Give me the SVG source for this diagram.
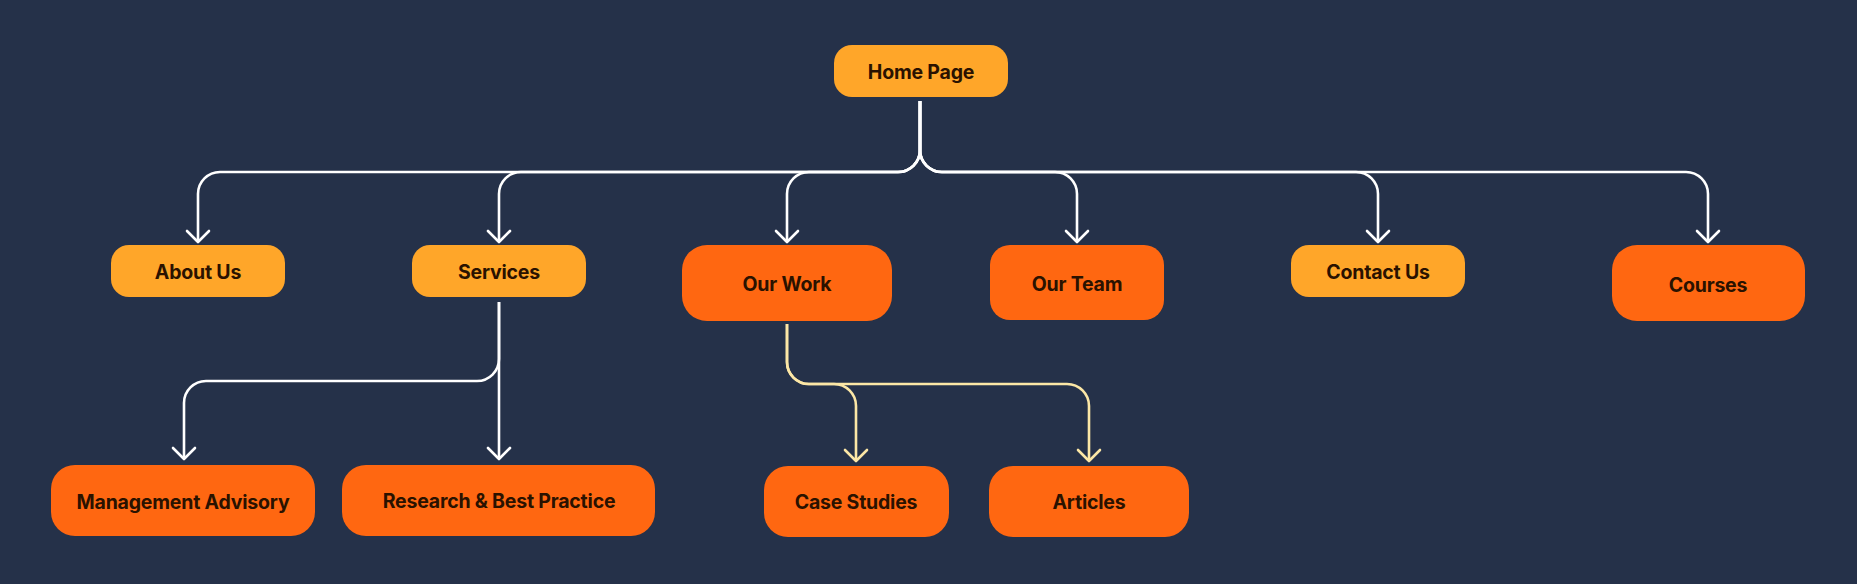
<svg xmlns="http://www.w3.org/2000/svg" width="1857" height="584" viewBox="0 0 1857 584">
<style>
.bg{fill:#253149}
.lt{fill:#FFA629}
.dk{fill:#FF6711}
.lbl{font-family:Inter,"Liberation Sans",sans-serif;font-weight:700;font-size:19.5px;fill:#2A1200;text-anchor:middle;dominant-baseline:central;letter-spacing:-0.2px}
.w{fill:none;stroke:#FFFFFF;stroke-width:2.6;marker-end:url(#aw)}
.y{fill:none;stroke:#FCE7A6;stroke-width:2.6;marker-end:url(#ay)}
</style>
<defs>
<marker id="aw" viewBox="-13 -13 26 26" refX="0" refY="0" markerWidth="26" markerHeight="26" markerUnits="userSpaceOnUse" orient="auto">
<path d="M-11,-11 L0,0 L-11,11" fill="none" stroke="#FFFFFF" stroke-width="2.6" stroke-linecap="round" stroke-linejoin="round"/>
</marker>
<marker id="ay" viewBox="-13 -13 26 26" refX="0" refY="0" markerWidth="26" markerHeight="26" markerUnits="userSpaceOnUse" orient="auto">
<path d="M-11,-11 L0,0 L-11,11" fill="none" stroke="#FCE7A6" stroke-width="2.6" stroke-linecap="round" stroke-linejoin="round"/>
</marker>
</defs>
<rect class="bg" x="0" y="0" width="1857" height="584"/>
<g id="connectors">
<path class="w" d="M920,101 V150 A22 22 0 0 1 898,172 H220 A22 22 0 0 0 198,194 V242"/>
<path class="w" d="M920,101 V150 A22 22 0 0 1 898,172 H521 A22 22 0 0 0 499,194 V242"/>
<path class="w" d="M920,101 V150 A22 22 0 0 1 898,172 H809 A22 22 0 0 0 787,194 V242"/>
<path class="w" d="M920,101 V150 A22 22 0 0 0 942,172 H1055 A22 22 0 0 1 1077,194 V242"/>
<path class="w" d="M920,101 V150 A22 22 0 0 0 942,172 H1356 A22 22 0 0 1 1378,194 V242"/>
<path class="w" d="M920,101 V150 A22 22 0 0 0 942,172 H1686 A22 22 0 0 1 1708,194 V242"/>
<path class="w" d="M499,302 V459"/>
<path class="w" d="M499,302 V359 A22 22 0 0 1 477,381 H206 A22 22 0 0 0 184,403 V459"/>
<path class="y" d="M787,324 V362 A22 22 0 0 0 809,384 H834 A22 22 0 0 1 856,406 V461"/>
<path class="y" d="M787,324 V362 A22 22 0 0 0 809,384 H1067 A22 22 0 0 1 1089,406 V461"/>
</g>
<g id="home"><rect class="lt" x="834" y="45" width="174" height="52" rx="18"/><text class="lbl" x="921" y="72">Home Page</text></g>
<g id="about"><rect class="lt" x="111" y="245" width="174" height="52" rx="18"/><text class="lbl" x="198" y="272">About Us</text></g>
<g id="services"><rect class="lt" x="412" y="245" width="174" height="52" rx="18"/><text class="lbl" x="499" y="272">Services</text></g>
<g id="ourwork"><rect class="dk" x="682" y="245" width="210" height="76" rx="25"/><text class="lbl" x="787" y="284">Our Work</text></g>
<g id="ourteam"><rect class="dk" x="990" y="245" width="174" height="75" rx="20"/><text class="lbl" x="1077" y="284">Our Team</text></g>
<g id="contact"><rect class="lt" x="1291" y="245" width="174" height="52" rx="18"/><text class="lbl" x="1378" y="272">Contact Us</text></g>
<g id="courses"><rect class="dk" x="1612" y="245" width="193" height="76" rx="25"/><text class="lbl" x="1708" y="285">Courses</text></g>
<g id="mgmt"><rect class="dk" x="51" y="465" width="264" height="71" rx="24"/><text class="lbl" x="183" y="502">Management Advisory</text></g>
<g id="research"><rect class="dk" x="342" y="465" width="313" height="71" rx="24"/><text class="lbl" x="499" y="501">Research &amp; Best Practice</text></g>
<g id="case"><rect class="dk" x="764" y="466" width="185" height="71" rx="24"/><text class="lbl" x="856" y="502">Case Studies</text></g>
<g id="articles"><rect class="dk" x="989" y="466" width="200" height="71" rx="24"/><text class="lbl" x="1089" y="502">Articles</text></g>
</svg>
